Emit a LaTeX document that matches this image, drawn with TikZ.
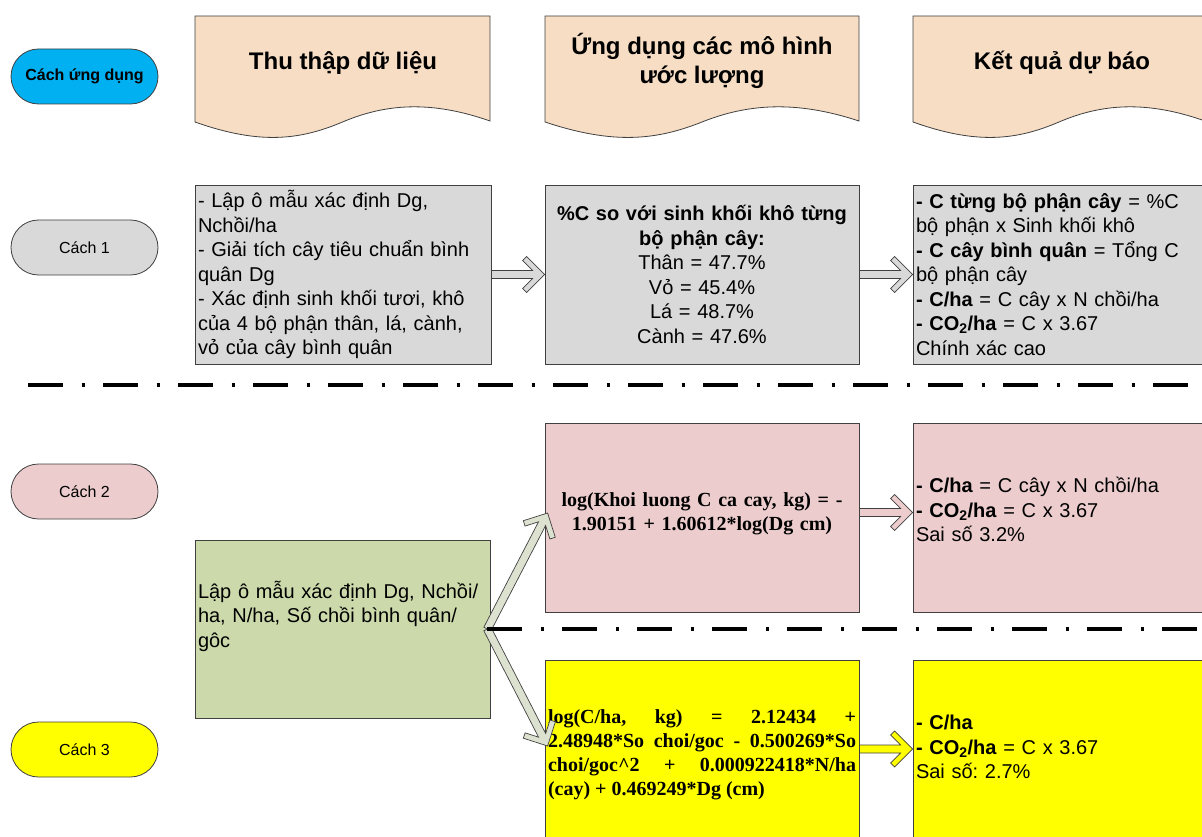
\documentclass[tikz,border=0pt]{standalone}
\usepackage{fontspec}
\setmainfont{Liberation Sans}
\newfontfamily\timesfont{Liberation Serif}
\usetikzlibrary{calc}
\frenchspacing

\definecolor{pillblue}{RGB}{0,176,240}
\definecolor{boxgray}{RGB}{217,217,217}
\definecolor{boxpink}{RGB}{236,204,204}
\definecolor{boxgreen}{RGB}{204,218,171}
\definecolor{boxyellow}{RGB}{255,255,0}
\definecolor{docpeach}{RGB}{246,221,196}
\definecolor{arrowgreen}{RGB}{221,226,208}
\definecolor{edge}{RGB}{64,64,64}

\begin{document}
\begin{tikzpicture}[
    x=1pt, y=-1pt,
    pill/.style={draw=edge, line width=0.8pt, rounded corners=27.5pt, minimum width=147pt, minimum height=55pt, inner sep=0pt, font=\fontsize{16}{19}\selectfont},
    box/.style={draw=edge, line width=0.8pt, inner xsep=3pt, inner ysep=3pt, font=\fontsize{20}{24.5}\selectfont},
    docshape/.style={draw=edge, line width=0.8pt, fill=docpeach},
    header/.style={align=center, font=\bfseries\fontsize{24}{29}\selectfont},
    formula/.style={font=\timesfont\bfseries\fontsize{20}{24}\selectfont},
    fatarrow/.style={draw=edge, line width=0.7pt, line join=miter},
    separator/.style={draw, line width=4.5pt, dash pattern=on 35pt off 18.5pt on 3pt off 18.5pt}
]
    % Define coordinates
    \def\colA{343}
    \def\colB{702}
    \def\colC{1061.5}
    \def\rowA{274.5}
    \def\rowB{517.5}
    \def\rowC{755}

    \useasboundingbox (0,0) rectangle (1202,837);

    % Header documents
    \foreach \x/\w in {195/295, 545/314, 913/292} {
        \draw[docshape] (\x,16) -- (\x+\w,16) -- (\x+\w,121)
            .. controls (\x+0.797*\w,100) and (\x+0.644*\w,104) .. (\x+0.5*\w,122)
            .. controls (\x+0.356*\w,140) and (\x+0.22*\w,145) .. (\x,122) -- cycle;
    }
    \node[header] (h1) at (\colA,63) {Thu thập dữ liệu};
    \node[header] (h2) at (\colB,61) {Ứng dụng các mô hình\\ước lượng};
    \node[header] (h3) at (1062,63) {Kết quả dự báo};

    % Labels
    \node[pill, fill=pillblue, font=\bfseries\fontsize{16}{19}\selectfont] (way) at (84.5,76.5) {Cách ứng dụng};
    \node[pill, fill=boxgray] (way1) at (84.5,247.5) {Cách 1};
    \node[pill, fill=boxpink] (way2) at (84.5,491.5) {Cách 2};
    \node[pill, fill=boxyellow] (way3) at (84.5,749.5) {Cách 3};

    % Cach 1
    \node[box, fill=boxgray, text width=290pt, minimum height=179pt, align=left] (g1) at (\colA,\rowA)
        {- Lập ô mẫu xác định Dg,\\Nchồi/ha\\- Giải tích cây tiêu chuẩn bình\\quân Dg\\- Xác định sinh khối tươi, khô\\của 4 bộ phận thân, lá, cành,\\vỏ của cây bình quân};
    \node[box, fill=boxgray, text width=308pt, minimum height=179pt, align=center] (c1) at (\colB,\rowA)
        {\textbf{\%C so với sinh khối khô từng}\\\textbf{bộ phận cây:}\\Thân = 47.7\%\\Vỏ = 45.4\%\\Lá = 48.7\%\\Cành = 47.6\%};
    \node[box, fill=boxgray, text width=291pt, minimum height=179pt, align=left] (r1) at (\colC,\rowA)
        {\textbf{- C từng bộ phận cây} = \%C\\bộ phận x Sinh khối khô\\\textbf{- C cây bình quân} = Tổng C\\bộ phận cây\\\textbf{- C/ha} = C cây x N chồi/ha\\\textbf{- CO\textsubscript{2}/ha} = C x 3.67\\Chính xác cao};

    % Cach 2 and 3
    \node[box, fill=boxgreen, text width=289pt, minimum height=178pt, align=left] (lap) at (342.5,629)
        {Lập ô mẫu xác định Dg, Nchồi/\\ha, N/ha, Số chồi bình quân/\\gôc\rule[-30pt]{0pt}{30pt}};
    \node[box, formula, fill=boxpink, text width=308pt, minimum height=189pt, align=center] (m2) at (\colB,\rowB)
        {log(Khoi luong C ca cay, kg) = -\\1.90151 + 1.60612*log(Dg cm)\rule[-12pt]{0pt}{12pt}};
    \node[box, fill=boxpink, text width=291pt, minimum height=189pt, align=left] (r2) at (\colC,\rowB)
        {\textbf{- C/ha} = C cây x N chồi/ha\\\textbf{- CO\textsubscript{2}/ha} = C x 3.67\\Sai số 3.2\%\rule[-16pt]{0pt}{16pt}};
    \node[box, formula, fill=boxyellow, text width=308pt, minimum height=190pt, align=justify] (m3) at (\colB,\rowC)
        {log(C/ha, kg) = 2.12434 +\linebreak 2.48948*So choi/goc - 0.500269*So\linebreak choi/goc\textasciicircum 2 + 0.000922418*N/ha\linebreak (cay) + 0.469249*Dg (cm)};
    \node[box, fill=boxyellow, text width=291pt, minimum height=190pt, align=left] (r3) at (\colC,\rowC)
        {\textbf{- C/ha}\\\textbf{- CO\textsubscript{2}/ha} = C x 3.67\\Sai số: 2.7\%\rule[-16pt]{0pt}{16pt}};

    % Arrows
    \coordinate (fork) at ([xshift=-3pt]lap.east);
    \coordinate (tipA) at ([shift={(3pt,4.5pt)}]m2.west);
    \coordinate (tipB) at ([shift={(3pt,9pt)}]m3.west);
    \coordinate (a2s) at ([yshift=5pt]m2.east);
    \coordinate (a2e) at ([yshift=5pt]r2.west);
    \coordinate (a3s) at ([yshift=6pt]m3.east);
    \coordinate (a3e) at ([yshift=6pt]r3.west);
    \foreach \s/\e/\c in {g1.east/c1.west/boxgray, c1.east/r1.west/boxgray, fork/tipA/arrowgreen,
                          fork/tipB/arrowgreen, a2s/a2e/boxpink, a3s/a3e/boxyellow} {
        \draw[fatarrow, fill=\c] let \p1=(\s), \p2=(\e), \n1={atan2(\y2-\y1,\x2-\x1)}, \n2={veclen(\x2-\x1,\y2-\y1)} in
            [shift={(\p1)}, rotate=\n1] (0,4) -- ({\n2-12},4) -- ({\n2-22},14) -- ({\n2-18},18) -- (\n2,0)
            -- ({\n2-18},-18) -- ({\n2-22},-14) -- ({\n2-12},-4) -- (0,-4) -- cycle;
    }

    % Separators
    \coordinate (sepR) at (1202,385);
    \draw[separator] (28,385) -- (sepR);
    \draw[separator] (fork) -- (fork -| sepR);

\end{tikzpicture}
\end{document}
